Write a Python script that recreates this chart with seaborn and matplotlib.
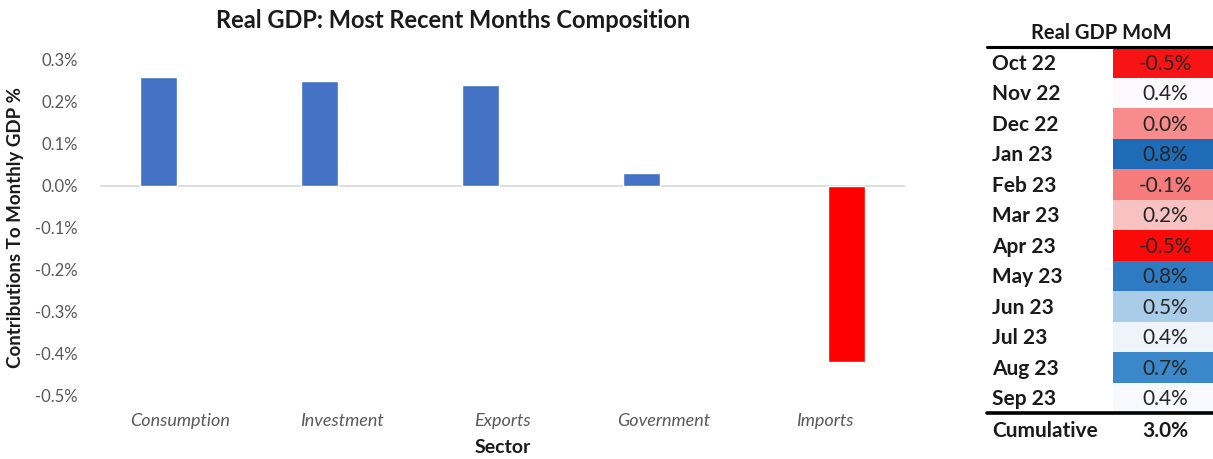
import matplotlib
matplotlib.use("Agg")
import matplotlib.pyplot as plt
import seaborn as sns
import pandas as pd
import numpy as np

# ---------------- data ----------------
sectors = ["Consumption", "Investment", "Exports", "Government", "Imports"]
contrib = [0.26, 0.25, 0.24, 0.03, -0.42]

months = ["Oct 22", "Nov 22", "Dec 22", "Jan 23", "Feb 23", "Mar 23",
          "Apr 23", "May 23", "Jun 23", "Jul 23", "Aug 23", "Sep 23"]
mom = [-0.5, 0.4, 0.0, 0.8, -0.1, 0.2, -0.5, 0.8, 0.5, 0.4, 0.7, 0.4]
cell_colors = ["#F81414", "#FCFAFC", "#F88C8C", "#1E6BB8", "#F67B7B", "#F9C2C2",
               "#FC0A0A", "#2E7BC4", "#A9CCE8", "#EFF4FA", "#3A88CA", "#F7F9FC"]
cumulative_label = "Cumulative"
cumulative_value = 3.0

# ---------------- style ----------------
sns.set_theme(style="white")
plt.rcParams["font.family"] = ["Lato", "DejaVu Sans"]

fig = plt.figure(figsize=(12.13, 4.59), dpi=100)

# ---------------- bar chart ----------------
ax = fig.add_axes([100 / 1213, 1 - 395 / 459, 805 / 1213, 335 / 459])
df = pd.DataFrame({"Sector": sectors, "Contribution": contrib})
df["Sign"] = np.where(df["Contribution"] >= 0, "pos", "neg")
sns.barplot(data=df, x="Sector", y="Contribution", hue="Sign",
            hue_order=["pos", "neg"], palette={"pos": "#4472C4", "neg": "#FF0000"},
            order=sectors, width=0.55, gap=0.18, dodge=True, legend=False,
            saturation=1, ax=ax)
ax.set_xlim(-0.5, 4.5)
ax.set_ylim(-0.5, 0.3)
yt = np.round(np.arange(-0.5, 0.31, 0.1), 1)
ax.set_yticks(yt)
ax.set_yticklabels([f"{(v if abs(v) > 1e-9 else 0.0):.1f}%" for v in yt],
                   color="#595959", fontsize=12)
ax.set_xticks(range(len(sectors)))
ax.set_xticklabels(sectors, color="#595959", fontsize=13, style="italic")
ax.tick_params(axis="x", length=0, pad=13)
ax.tick_params(axis="y", length=0, pad=16)
ax.axhline(0, color="#D9D9D9", lw=1.2, zorder=0)
for s in ax.spines.values():
    s.set_visible(False)
ax.set_xlabel("Sector", fontsize=14, fontweight="bold", color="#1a1a1a", labelpad=7)
ax.set_ylabel("Contributions To Monthly GDP %", fontsize=13.5, fontweight="bold",
              color="#1a1a1a", labelpad=8)
fig.text(453 / 1213, 1 - 20 / 459, "Real GDP: Most Recent Months Composition",
         ha="center", va="center", fontsize=17, fontweight="bold", color="#1a1a1a")

# ---------------- table ----------------
tx = fig.add_axes([985 / 1213, 1 - 449.6 / 459, 228 / 1213, 439.2 / 459])
tx.set_xlim(0, 1)
tx.set_ylim(13.2, -1.2)
tx.axis("off")
rows = np.arange(len(months))
tx.barh(rows, 0.44, left=0.56, height=1.0, align="edge", color=cell_colors,
        edgecolor="none")
for i, (m, v) in enumerate(zip(months, mom)):
    tx.text(0.03, i + 0.55, m, ha="left", va="center", fontsize=15,
            fontweight="bold", color="#1a1a1a")
    tx.text(0.79, i + 0.55, f"{v:.1f}%", ha="center", va="center", fontsize=15,
            color="#262626")
tx.text(0.51, -0.45, "Real GDP MoM", ha="center", va="center", fontsize=14.5,
        fontweight="bold", color="#1a1a1a")
tx.axhline(0, xmin=0.01, xmax=1, color="black", lw=2.2)
tx.axhline(12, xmin=0.01, xmax=1, color="black", lw=2.6)
tx.text(0.03, 12.6, cumulative_label, ha="left", va="center", fontsize=15,
        fontweight="bold", color="#1a1a1a")
tx.text(0.79, 12.6, f"{cumulative_value:.1f}%", ha="center", va="center",
        fontsize=15, fontweight="bold", color="#1a1a1a")

fig.savefig("out.png", dpi=100)
